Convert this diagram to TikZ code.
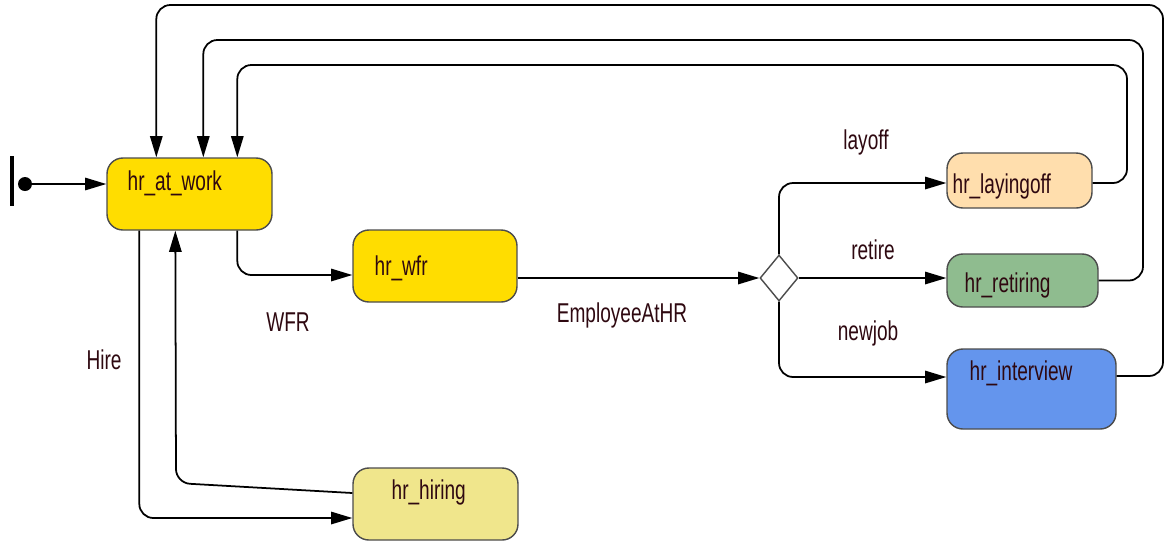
\documentclass[tikz,border=0pt]{standalone}
\usepackage{fontspec}
\setmainfont[FakeStretch=0.7]{Liberation Sans}
\usetikzlibrary{arrows.meta, calc, positioning, shapes.geometric}
\definecolor{mygold}{HTML}{FFDD00}
\definecolor{mykhaki}{HTML}{F0E68C}
\definecolor{mypeach}{HTML}{FFDEAD}
\definecolor{mygreen}{HTML}{8FBC8F}
\definecolor{myblue}{HTML}{6495ED}
\definecolor{mytext}{HTML}{2E0810}
\tikzset{>={Triangle[length=12pt,width=7pt]}}

\begin{document}
\begin{tikzpicture}[x=0.02cm, y=-0.02cm,
	state/.style={draw=black!70, line width=0.8pt, rounded corners=9pt},
	txt/.style={anchor=west, inner sep=0pt, text=mytext, font=\fontsize{15.5}{18}\selectfont},
	lbl/.style={inner sep=0pt, text=mytext, font=\fontsize{15.5}{18}\selectfont},
	flow/.style={->, line width=1pt, rounded corners=8pt}]
	\useasboundingbox (0,0) rectangle (1165,542);
	% states
	\node [state, fill=mygold, minimum width=3.3cm, minimum height=1.44cm] (work) at (189.5,194) {};
	\node [state, fill=mygold, minimum width=3.28cm, minimum height=1.44cm] (wfr) at (435,266) {};
	\node [state, fill=mykhaki, minimum width=3.3cm, minimum height=1.44cm] (hiring) at (435.5,504) {};
	\node [state, fill=mypeach, minimum width=2.9cm, minimum height=1.1cm] (layoff) at (1019.5,180.5) {};
	\node [state, fill=mygreen, minimum width=3.02cm, minimum height=1.06cm] (retire) at (1022.5,280.5) {};
	\node [state, fill=myblue, minimum width=3.38cm, minimum height=1.6cm] (interview) at (1031.5,389) {};
	\node [txt] (work-t) at ($(work.west)+(21,-11)$) {hr\_at\_work};
	\node [txt] (wfr-t) at ($(wfr.west)+(22,2)$) {hr\_wfr};
	\node [txt] (hiring-t) at ($(hiring.west)+(39,-12)$) {hr\_hiring};
	\node [txt] (layoff-t) at ($(layoff.west)+(6,5.5)$) {hr\_layingoff};
	\node [txt] (retire-t) at ($(retire.west)+(18,4.5)$) {hr\_retiring};
	\node [txt] (interview-t) at ($(interview.west)+(23,-16)$) {hr\_interview};
	% pseudo states
	\node [diamond, draw=black!70, fill=white, line width=0.8pt, aspect=0.83, inner sep=0pt, minimum width=0.76cm, minimum height=0.92cm] (choice) at (779,278) {};
	\node [circle, fill=black, inner sep=0pt, minimum size=0.28cm] (init) at (25,184) {};
	\node [fill=black, inner sep=0pt, minimum width=0.07cm, minimum height=1cm] (bar) at (12,181) {};
	% transitions
	\draw [flow] (init) -- (init -| work.west);
	\draw [flow] ($(work.south west)+(131,0)$) |- ($(wfr.west)+(0,9)$);
	\draw [flow] ($(wfr.east)+(0,12)$) -- (choice.west);
	\draw [flow] (choice.north) |- ($(layoff.west)+(0,2.5)$);
	\draw [flow] (choice.east) -- (choice.east -| retire.west);
	\draw [flow] (choice.south) |- ($(interview.west)+(0,-12)$);
	\draw [flow] ($(layoff.east)+(0,2.5)$) -| (1127,65) -| ($(work.north west)+(131,0)$);
	\draw [flow] (retire.east) -| (1143,40) -| ($(work.north west)+(97,0)$);
	\draw [flow] ($(interview.east)+(0,-13)$) -| (1163,5) -| ($(work.north west)+(50,0)$);
	\draw [flow] ($(work.south west)+(33,0)$) |- ($(hiring.west)+(0,14)$);
	\draw [flow] ($(hiring.west)+(0,-11)$) -- (176,483) -- ($(work.south west)+(69,0)$);
	% labels
	\node [lbl] (wfr-l) at (288,322) {WFR};
	\node [lbl] (emp-l) at (622,315) {EmployeeAtHR};
	\node [lbl] (layoff-l) at (866,142) {layoff};
	\node [lbl] (retire-l) at (873,250) {retire};
	\node [lbl] (newjob-l) at (868,333) {newjob};
	\node [lbl] (hire-l) at (104,360) {Hire};
\end{tikzpicture}
\end{document}
